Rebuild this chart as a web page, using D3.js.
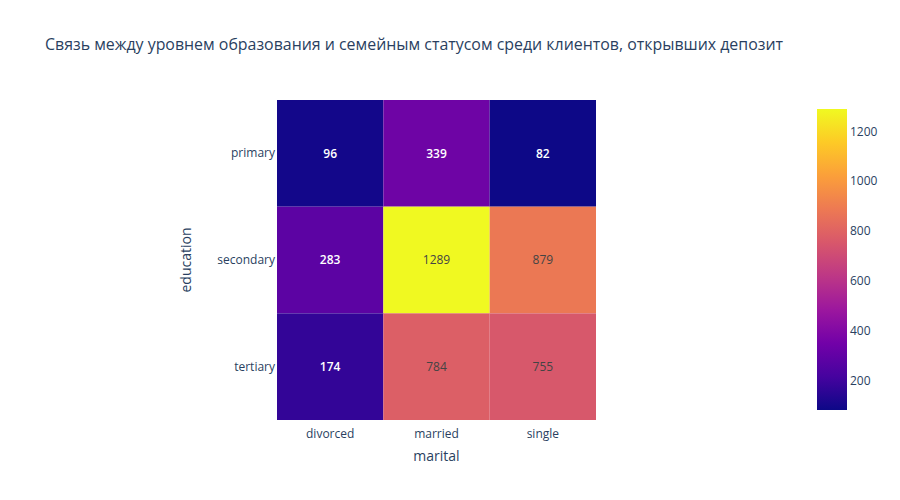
<!DOCTYPE html>
<html><head><meta charset="utf-8">
<script src="https://cdn.jsdelivr.net/npm/d3@7"></script>
<style>body{margin:0;background:#fff}svg{font-family:"Open Sans",Verdana,Arial,sans-serif}</style>
</head><body>
<svg id="c" width="900" height="500"></svg>
<script>
const maritalCats = ["divorced","married","single"];
const educationCats = ["primary","secondary","tertiary"];
const primaryVals = [96, 339, 82];
const secondaryVals = [283, 1289, 879];
const tertiaryVals = [174, 784, 755];
const colorTicks = [200, 400, 600, 800, 1000, 1200];
const plasma = ['#0d0887','#46039f','#7201a8','#9c179e','#bd3786','#d8576b','#ed7953','#fb9f3a','#fdca26','#f0f921'];

const rows = [primaryVals, secondaryVals, tertiaryVals];
const cells = [];
educationCats.forEach((e,i)=>maritalCats.forEach((m,j)=>cells.push({e,m,v:rows[i][j]})));
const allV = cells.map(d=>d.v);
const zmin = d3.min(allV), zmax = d3.max(allV);

const svg = d3.select("#c");
const L=277, R=596, T=100, B=420;
const x = d3.scaleBand().domain(maritalCats).range([L,R]);
const y = d3.scaleBand().domain(educationCats).range([T,B]);
const colorInterp = d3.interpolateRgbBasis(plasma);
const zs = d3.scaleLinear().domain([zmin,zmax]).range([0,1]);
const color = v => colorInterp(zs(v));

svg.append("text").attr("x",45).attr("y",50).attr("font-size",16).attr("fill","#2a3f5f")
  .attr("textLength",738).attr("lengthAdjust","spacingAndGlyphs")
  .text("Связь между уровнем образования и семейным статусом среди клиентов, открывших депозит");

svg.append("g").selectAll("rect").data(cells).join("rect")
  .attr("x",d=>x(d.m)).attr("y",d=>y(d.e)).attr("width",x.bandwidth()).attr("height",y.bandwidth())
  .attr("fill",d=>color(d.v));

svg.append("g").selectAll("text").data(cells).join("text")
  .attr("x",d=>x(d.m)+x.bandwidth()/2).attr("y",d=>y(d.e)+y.bandwidth()/2)
  .attr("dy","0.35em").attr("text-anchor","middle").attr("font-size",12)
  .each(function(d){const dark=d3.lab(color(d.v)).l>55;
    d3.select(this).attr("fill",dark?"#444":"#fff").attr("font-weight",dark?400:600);})
  .text(d=>d.v);

const xa = svg.append("g").attr("transform",`translate(0,${B})`).call(d3.axisBottom(x).tickSize(0).tickPadding(9));
const ya = svg.append("g").attr("transform",`translate(${L},0)`).call(d3.axisLeft(y).tickSize(0).tickPadding(2));
[xa,ya].forEach(a=>{a.select(".domain").remove();a.selectAll("text").attr("font-size",12).attr("fill","#2a3f5f").attr("font-family","'Open Sans',Verdana,Arial,sans-serif");});

svg.append("text").attr("x",(L+R)/2).attr("y",461).attr("text-anchor","middle").attr("font-size",14).attr("fill","#2a3f5f").text("marital");
svg.append("text").attr("transform",`translate(191,${(T+B)/2}) rotate(-90)`).attr("text-anchor","middle").attr("font-size",14).attr("fill","#2a3f5f").text("education");

// colorbar
const cbL=817, cbW=30, cbT=109, cbB=410;
const cy = d3.scaleLinear().domain([zmin,zmax]).range([cbB,cbT]);
const defs = svg.append("defs");
const grad = defs.append("linearGradient").attr("id","cb").attr("x1",0).attr("y1",1).attr("x2",0).attr("y2",0);
plasma.forEach((c,i)=>grad.append("stop").attr("offset",i/(plasma.length-1)).attr("stop-color",c));
svg.append("rect").attr("x",cbL).attr("y",cbT).attr("width",cbW).attr("height",cbB-cbT).attr("fill","url(#cb)");
const ca = svg.append("g").attr("transform",`translate(${cbL+cbW},0)`).call(d3.axisRight(cy).tickValues(colorTicks).tickFormat(d3.format("d")).tickSize(0).tickPadding(3));
ca.select(".domain").remove();
ca.selectAll("text").attr("font-size",12).attr("fill","#2a3f5f").attr("font-family","'Open Sans',Verdana,Arial,sans-serif");
</script>
</body></html>
